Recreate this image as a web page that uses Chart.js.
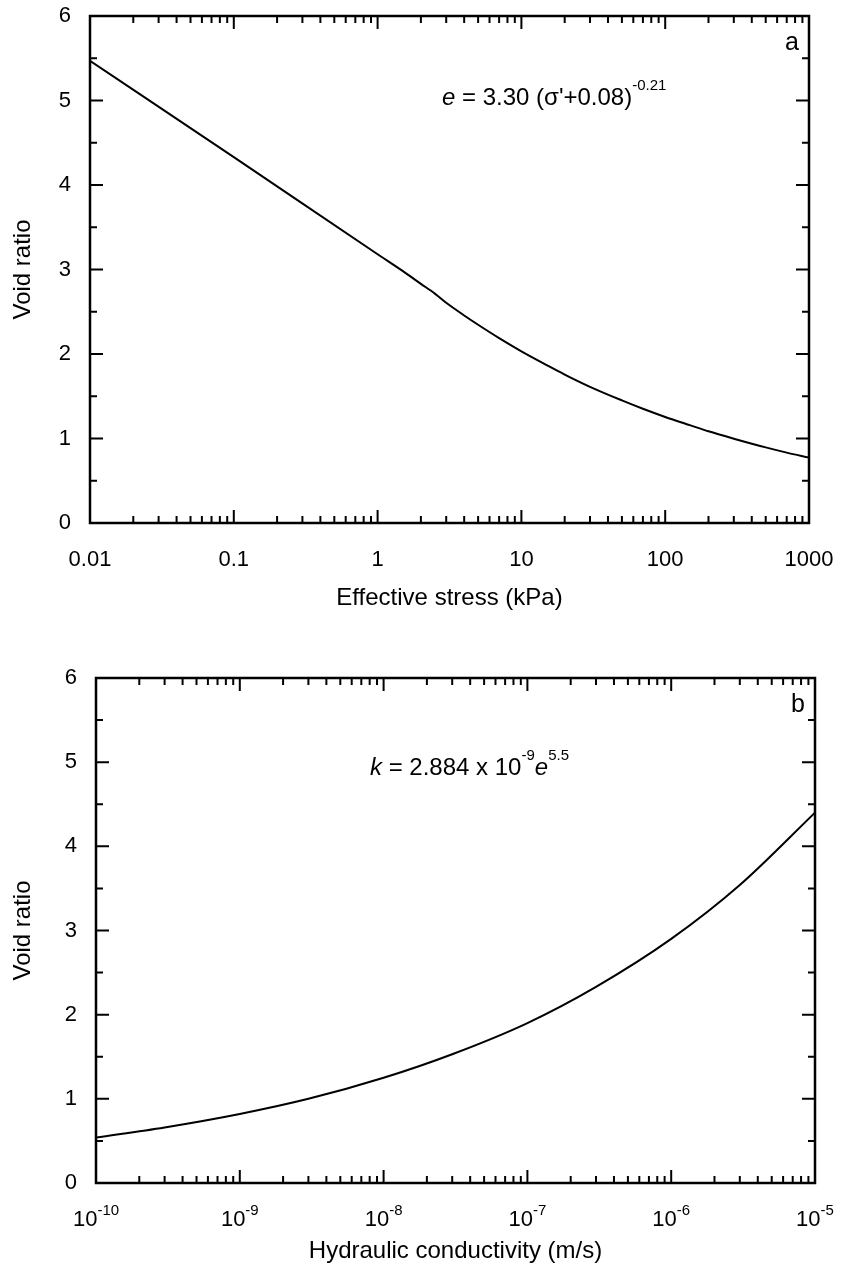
<!DOCTYPE html>
<html>
<head>
<meta charset="utf-8">
<script src="https://cdn.jsdelivr.net/npm/chart.js@4"></script>
<style>
    body { margin: 0; background: #fff; }
    canvas { position: absolute; left: 0; }
    #grafico_a { top: 0; }
    #grafico_b { top: 630px; }
</style>
</head>
<body>
<canvas id="grafico_a" width="841" height="630"></canvas>
<canvas id="grafico_b" width="841" height="642"></canvas>
<script>
// painel a: indice de vazios x tensao efetiva
const stress = [0.01, 0.1, 1, 1.5, 2, 2.5, 3, 4, 5, 7, 10, 15, 20, 30, 50, 70, 100, 150, 200, 300, 500, 700, 1000];
const voidA = [5.47, 4.33, 3.18, 2.98, 2.83, 2.715, 2.606, 2.456, 2.346, 2.188, 2.032, 1.869, 1.757, 1.612, 1.451, 1.352, 1.255, 1.155, 1.085, 0.998, 0.895, 0.833, 0.774];
const stressDecades = [0.01, 0.1, 1, 10, 100, 1000];
const stressLabels = ['0.01', '0.1', '1', '10', '100', '1000'];

// painel b: indice de vazios x condutividade hidraulica
const conductivity = [1e-10, 3e-10, 1e-9, 3e-9, 1e-8, 3e-8, 1e-7, 3e-7, 1e-6, 3e-6, 1e-5];
const voidB = [0.54, 0.66, 0.82, 1.0, 1.25, 1.53, 1.9, 2.33, 2.9, 3.54, 4.4];
const condDecades = [1e-10, 1e-9, 1e-8, 1e-7, 1e-6, 1e-5];
const condExponents = ['-10', '-9', '-8', '-7', '-6', '-5'];

const voidTicks = [0, 1, 2, 3, 4, 5, 6];

const FONTE = '"Liberation Sans", Arial, sans-serif';

function escreveTrechos(ctx, trechos, x, y, centro) {
    let largura = 0;
    trechos.forEach(t => {
        ctx.font = (t.italic ? 'italic ' : '') + t.size + 'px ' + FONTE;
        largura += ctx.measureText(t.txt).width;
    });
    if (centro) x -= largura / 2;
    trechos.forEach(t => {
        ctx.font = (t.italic ? 'italic ' : '') + t.size + 'px ' + FONTE;
        ctx.fillText(t.txt, x, y - (t.up || 0));
        x += ctx.measureText(t.txt).width;
    });
}

function semPadding(s) {
    s.paddingTop = 0;
    s.paddingBottom = 0;
    s.paddingLeft = 0;
    s.paddingRight = 0;
}

const moldura = {
    id: 'moldura',
    afterDraw(chart, args, o) {
        const ctx = chart.ctx;
        const a = chart.chartArea;
        const xs = chart.scales.x;
        const ys = chart.scales.y;
        ctx.save();
        ctx.strokeStyle = '#000';
        ctx.fillStyle = '#000';
        ctx.lineWidth = 2;
        ctx.beginPath();
        for (let v = 0; v <= 6; v += 0.5) {
            const y = ys.getPixelForValue(v);
            const len = v % 1 === 0 ? 13 : 7;
            ctx.moveTo(a.left, y); ctx.lineTo(a.left + len, y);
            ctx.moveTo(a.right, y); ctx.lineTo(a.right - len, y);
        }
        o.decades.forEach((d, i) => {
            for (let m = 1; m <= 9; m++) {
                if (i === o.decades.length - 1 && m > 1) break;
                const x = xs.getPixelForValue(d * m);
                const len = m === 1 ? 13 : 7;
                ctx.moveTo(x, a.bottom); ctx.lineTo(x, a.bottom - len);
                ctx.moveTo(x, a.top); ctx.lineTo(x, a.top + len);
            }
        });
        ctx.stroke();
        ctx.lineWidth = 2.5;
        ctx.strokeRect(a.left, a.top, a.right - a.left, a.bottom - a.top);

        // rotulos do eixo x
        ctx.textAlign = 'left';
        ctx.textBaseline = 'alphabetic';
        o.decades.forEach((d, i) => {
            const x = xs.getPixelForValue(d);
            if (o.expoentes) {
                escreveTrechos(ctx, [
                    { txt: '10', size: 22 },
                    { txt: o.expoentes[i], size: 15, up: 11 }
                ], x, a.bottom + 43, true);
            } else {
                escreveTrechos(ctx, [{ txt: o.rotulos[i], size: 22 }], x, a.bottom + 43, true);
            }
        });

        // titulos dos eixos
        ctx.font = '24px ' + FONTE;
        ctx.textAlign = 'center';
        ctx.textBaseline = 'middle';
        ctx.fillText(o.tituloX, (a.left + a.right) / 2, a.bottom + o.tituloDy);
        ctx.save();
        ctx.translate(23, (a.top + a.bottom) / 2);
        ctx.rotate(-Math.PI / 2);
        ctx.fillText('Void ratio', 0, 0);
        ctx.restore();

        // letra do painel
        ctx.textBaseline = 'alphabetic';
        ctx.font = '25px ' + FONTE;
        ctx.fillText(o.letra, a.right - 17, a.top + o.letraDy);

        // equacao
        ctx.textAlign = 'left';
        escreveTrechos(ctx, o.equacao, o.eqX, a.top + o.eqDy, false);
        ctx.restore();
    }
};

function configGrafico(xs, ys, xmin, xmax, decades, larguraY, alturaX, padding, extras) {
    return {
        type: 'scatter',
        data: {
            datasets: [{
                data: xs.map((x, i) => ({ x: x, y: ys[i] })),
                showLine: true,
                borderColor: '#000',
                borderWidth: 2,
                pointRadius: 0,
                cubicInterpolationMode: 'monotone',
                fill: false
            }]
        },
        options: {
            responsive: false,
            animation: false,
            layout: { padding: padding },
            plugins: {
                legend: { display: false },
                tooltip: { enabled: false },
                moldura: extras
            },
            scales: {
                x: {
                    type: 'logarithmic',
                    min: xmin,
                    max: xmax,
                    grid: { display: false, drawTicks: false },
                    border: { display: false },
                    afterBuildTicks: s => { s.ticks = decades.map(v => ({ value: v })); },
                    afterFit: s => { s.height = alturaX; semPadding(s); },
                    ticks: {
                        autoSkip: false,
                        maxRotation: 0,
                        font: { size: 22, family: FONTE },
                        callback: () => ''
                    }
                },
                y: {
                    type: 'linear',
                    min: 0,
                    max: 6,
                    grid: { display: false, drawTicks: false },
                    border: { display: false },
                    afterBuildTicks: s => { s.ticks = voidTicks.map(v => ({ value: v })); },
                    afterFit: s => { s.width = larguraY; semPadding(s); },
                    ticks: {
                        padding: 19,
                        color: '#000',
                        font: { size: 22, family: FONTE },
                        callback: v => String(v)
                    }
                }
            }
        },
        plugins: [moldura]
    };
}

const grafico_a = document.querySelector('#grafico_a');
const grafico_b = document.querySelector('#grafico_b');

const configA = configGrafico(stress, voidA, 0.01, 1000, stressDecades, 90, 107,
    { top: 16, right: 32, left: 0, bottom: 0 },
    {
        decades: stressDecades,
        rotulos: stressLabels,
        tituloX: 'Effective stress (kPa)',
        tituloDy: 75,
        letra: 'a',
        letraDy: 34,
        eqX: 442,
        eqDy: 89,
        equacao: [
            { txt: 'e', size: 24, italic: true },
            { txt: ' = 3.30 (\u03C3\'+0.08)', size: 24 },
            { txt: '-0.21', size: 15, up: 15 }
        ]
    });

const configB = configGrafico(conductivity, voidB, 1e-10, 1e-5, condDecades, 96, 89,
    { top: 48, right: 26, left: 0, bottom: 0 },
    {
        decades: condDecades,
        expoentes: condExponents,
        tituloX: 'Hydraulic conductivity (m/s)',
        tituloDy: 68,
        letra: 'b',
        letraDy: 34,
        eqX: 370,
        eqDy: 97,
        equacao: [
            { txt: 'k', size: 24, italic: true },
            { txt: ' = 2.884 x 10', size: 24 },
            { txt: '-9', size: 15, up: 15 },
            { txt: 'e', size: 24, italic: true },
            { txt: '5.5', size: 15, up: 15 }
        ]
    });

const graficoA = new Chart(grafico_a, configA);
const graficoB = new Chart(grafico_b, configB);
</script>
</body>
</html>
